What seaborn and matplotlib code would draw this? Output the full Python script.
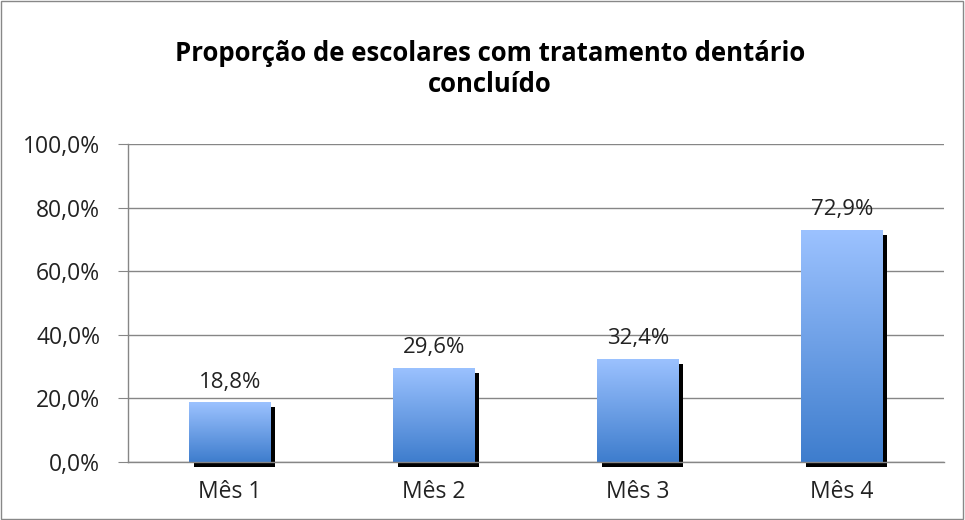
import numpy as np
import pandas as pd
import seaborn as sns
import matplotlib.pyplot as plt
import matplotlib.patheffects as pe
from matplotlib.colors import LinearSegmentedColormap
from matplotlib.patches import Rectangle

# dados
meses = ['Mês 1', 'Mês 2', 'Mês 3', 'Mês 4']
proporcao = [18.8, 29.6, 32.4, 72.9]
rotulos = ['18,8%', '29,6%', '32,4%', '72,9%']
yticks = [0, 20, 40, 60, 80, 100]
ytick_labels = ['0,0%', '20,0%', '40,0%', '60,0%', '80,0%', '100,0%']

df = pd.DataFrame({'mes': meses, 'valor': proporcao})

sns.set_style("white")
plt.rcParams['font.family'] = ['Open Sans', 'DejaVu Sans']

fig = plt.figure(figsize=(9.65, 5.2), dpi=100)
ax = fig.add_axes([0.1326, 0.1115, 0.8456, 0.6115])

sns.barplot(x='mes', y='valor', data=df, color='#6A9BE6', width=0.4,
            ax=ax, zorder=3)

# sombra preta + gradiente azul
cmap = LinearSegmentedColormap.from_list('azul', ['#3E7DCD', '#9CC2FF'])
grad = np.linspace(0, 1, 256).reshape(-1, 1)
for bar in ax.patches:
    bar.set_edgecolor('none')
    bar.set_clip_on(False)
    bar.set_path_effects([pe.SimplePatchShadow(offset=(3.4, -3.4),
                                               shadow_rgbFace='black', alpha=1.0),
                          pe.Normal()])
    x0, y0 = bar.get_x(), bar.get_y()
    w, h = bar.get_width(), bar.get_height()
    im = ax.imshow(grad, cmap=cmap, origin='lower', aspect='auto',
                   extent=[x0, x0 + w, y0, y0 + h], zorder=4)
    im.set_clip_path(bar)

ax.bar_label(ax.containers[0], labels=rotulos, padding=7, fontsize=16,
             color='#222222')

ax.set_xlim(-0.5, 3.5)
ax.set_ylim(0, 100)
ax.set_yticks(yticks)
ax.set_yticklabels(ytick_labels, fontsize=16.5, color='#222222')
ax.tick_params(axis='x', which='major', length=0, labelsize=16.5,
               labelcolor='#222222', pad=13)
ax.set_xticks([-0.5, 0.5, 1.5, 2.5, 3.5], minor=True)
ax.tick_params(axis='x', which='minor', length=7, color='#868686', direction='out')
ax.tick_params(axis='y', length=7, color='#868686', direction='out', left=True, pad=13)
ax.grid(axis='y', color='#868686', linewidth=1, zorder=0)
ax.set_axisbelow(True)
for side in ['top', 'right']:
    ax.spines[side].set_visible(False)
for side in ['left', 'bottom']:
    ax.spines[side].set_color('#868686')
    ax.spines[side].set_linewidth(1)
    ax.spines[side].set_zorder(5)
ax.set_xlabel('')
ax.set_ylabel('')

fig.text(0.508, 0.867, 'Proporção de escolares com tratamento dentário\nconcluído',
         ha='center', va='center', fontsize=18.5, fontweight='bold',
         linespacing=1.2, color='black')

fig.patches.append(Rectangle((0.001, 0.002), 0.997, 0.996, transform=fig.transFigure,
                             fill=False, edgecolor='#888888', linewidth=1))

plt.savefig('out.png', dpi=100)
plt.close()
